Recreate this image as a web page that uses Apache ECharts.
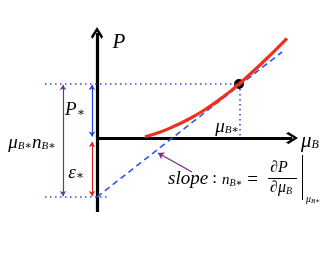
<!DOCTYPE html>
<html><head><meta charset="utf-8">
<script src="https://cdn.jsdelivr.net/npm/echarts@6/dist/echarts.min.js"></script>
<style>html,body{margin:0;padding:0;background:#fff}#c{width:332px;height:257px}</style>
</head><body><div id="c"></div>
<script>
// chemical potential values (x) and pressure values (y) along the red curve
const curveMu = [48, 62, 76, 93, 110, 126, 142, 163, 190];
const curveP  = [1.3, 5.5, 11.3, 19.5, 29.7, 41, 54, 73, 99.7];
// the tangent point (mu_B*, P*)
const starPoint = [142, 54];
// tangent line: intercept (= -eps*) and end point
const tangentMu = [0, 185];
const tangentP = [-59, 86];
// axes extents
const xAxisExtent = [0, 195];
const yAxisExtent = [-74, 105];
const guideLeft = -52;
const epsLevel = -59;

const serif = '"Liberation Serif","DejaVu Serif",serif';
const chevron = 'path://M0,0 L10,9 L7.6,11.4 L0,4.2 L-7.6,11.4 L-10,9 Z';

const chart = echarts.init(document.getElementById('c'));
function lbl(pos, fmt, rich, align) {
  return {value: pos, label: {show: true, position: 'inside', formatter: fmt, rich: rich, color: '#000', opacity: 1, align: align || 'center', verticalAlign: 'middle'}};
}
const base = {fontFamily: serif, color: '#000'};
const R = {
  m: Object.assign({}, base, {fontStyle: 'italic', fontSize: 21}),
  ms: Object.assign({}, base, {fontStyle: 'italic', fontSize: 19}),
  s: Object.assign({}, base, {fontStyle: 'italic', fontSize: 12, padding: [8, 0, 0, 0]}),
  s2: Object.assign({}, base, {fontStyle: 'italic', fontSize: 11, padding: [7, 0, 0, 0]}),
  st: Object.assign({}, base, {fontSize: 12, padding: [6, 0, 0, 0]}),
  up: Object.assign({}, base, {fontSize: 17}),
  eq: Object.assign({}, base, {fontSize: 19}),
  n: Object.assign({}, base, {fontStyle: 'italic', fontSize: 15}),
  ns: Object.assign({}, base, {fontStyle: 'italic', fontSize: 10, padding: [6, 0, 0, 0]}),
  f: Object.assign({}, base, {fontStyle: 'italic', fontSize: 16}),
  fs: Object.assign({}, base, {fontStyle: 'italic', fontSize: 10, padding: [6, 0, 0, 0]}),
  t: Object.assign({}, base, {fontStyle: 'italic', fontSize: 10}),
  ts: Object.assign({}, base, {fontStyle: 'italic', fontSize: 7, padding: [4, 0, 0, 0]})
};

chart.setOption({
  animation: false,
  grid: {left: 0, top: 0, right: 0, bottom: 0},
  xAxis: {type: 'value', min: -97, max: 235, show: false},
  yAxis: {type: 'value', min: -119, max: 138, show: false},
  series: [
    {type: 'line', data: [[guideLeft, starPoint[1]], [starPoint[0], starPoint[1]]], symbol: 'none',
     lineStyle: {color: '#3348d8', width: 1.6, type: [1.5, 3.5]}},
    {type: 'line', data: [[guideLeft, epsLevel], [11, epsLevel]], symbol: 'none',
     lineStyle: {color: '#3348d8', width: 1.6, type: [1.5, 3.5]}},
    {type: 'line', data: [[starPoint[0] + 1, starPoint[1]], [starPoint[0] + 1, 0]], symbol: 'none',
     lineStyle: {color: '#3348d8', width: 1.6, type: [1.5, 3.5]}},
    {type: 'lines', coordinateSystem: 'cartesian2d', symbol: ['none', chevron], symbolSize: [13, 12],
     lineStyle: {color: '#000', width: 3.2, opacity: 1},
     data: [{coords: [[0, yAxisExtent[0]], [0, yAxisExtent[1]]]}, {coords: [[0, 0], [xAxisExtent[1], 0]]}]},
    {type: 'line', data: tangentMu.map((m, i) => [m, tangentP[i]]), symbol: 'none',
     lineStyle: {color: '#2b55f0', width: 1.6, type: [6, 4]}},
    {type: 'line', data: curveMu.map((m, i) => [m, curveP[i]]), smooth: true, symbol: 'none',
     lineStyle: {color: '#f0301c', width: 3.2}},
    {type: 'scatter', data: [starPoint], symbolSize: 10, itemStyle: {color: '#000', opacity: 1}},
    {type: 'lines', coordinateSystem: 'cartesian2d', symbol: ['arrow', 'arrow'], symbolSize: 5,
     data: [
       {coords: [[-34, starPoint[1] - 1], [-34, epsLevel + 1]], lineStyle: {color: '#7b2a8a', width: 1.2, opacity: 1}},
       {coords: [[-5, starPoint[1] - 1], [-5, 1.5]], lineStyle: {color: '#2040e0', width: 1.2, opacity: 1}},
       {coords: [[-5, -4], [-5, epsLevel + 1]], lineStyle: {color: '#e02020', width: 1.2, opacity: 1}}
     ]},
    {type: 'lines', coordinateSystem: 'cartesian2d', symbol: ['none', 'arrow'], symbolSize: 6,
     lineStyle: {color: '#7b2a8a', width: 1.4, opacity: 1},
     data: [{coords: [[95, -34], [61, -15]]}]},
    {type: 'lines', coordinateSystem: 'cartesian2d', symbol: 'none',
     lineStyle: {color: '#000', width: 1, opacity: 1},
     data: [{coords: [[171, -40], [200, -40]]}, {coords: [[205, -17], [205, -62]]}]},
    {type: 'scatter', symbolSize: 0, silent: true, itemStyle: {opacity: 1},
     data: [
       lbl([22, 96], '{m|P}', R),
       lbl([213, -3], '{m|μ}{s|B}', R),
       lbl([-22, 28], '{ms|P}{st|∗}', R),
       lbl([-21, -35], '{ms|ε}{st|∗}', R),
       lbl([-65, -5], '{ms|μ}{s2|B∗}{ms|n}{s2|B∗}', R),
       lbl([130, 11], '{ms|μ}{s2|B∗}', R),
       lbl([71, -41], '{ms|slope}{up| : }', R, 'left'),
       lbl([125, -42], '{n|n}{ns|B∗}{eq| =}', R, 'left'),
       lbl([182, -30], '{f|∂P}', R),
       lbl([184, -50], '{f|∂μ}{fs|B}', R),
       lbl([216, -61], '{t|μ}{ts|B∗}', R)
     ]}
  ]
});
</script></body></html>
